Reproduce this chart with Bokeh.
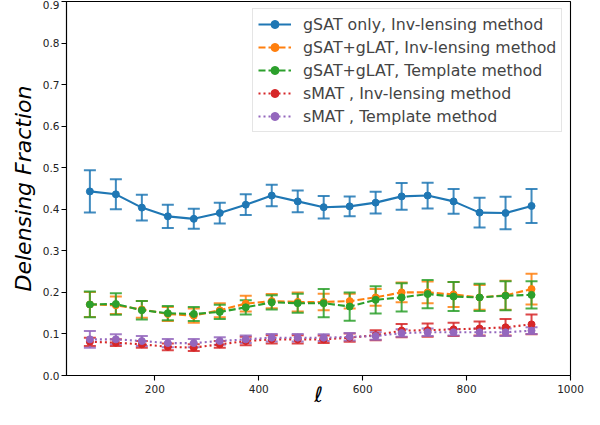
from bokeh.plotting import figure
from bokeh.models import (ColumnDataSource, Whisker, TeeHead, FixedTicker,
                          PrintfTickFormatter, Range1d, Legend, LegendItem)
from bokeh.embed import file_html
from bokeh.resources import INLINE

ell = [75, 125, 175, 225, 275, 325, 375, 425, 475, 525, 575, 625, 675, 725, 775, 825, 875, 925]

gsat_inv = [0.443, 0.436, 0.404, 0.383, 0.377, 0.391, 0.411, 0.433, 0.419, 0.405, 0.407, 0.416, 0.431, 0.433, 0.419, 0.392, 0.391, 0.408]
gsat_inv_err = [0.051, 0.036, 0.031, 0.028, 0.024, 0.025, 0.025, 0.026, 0.026, 0.027, 0.024, 0.026, 0.032, 0.031, 0.030, 0.036, 0.039, 0.041]

glat_inv = [0.171, 0.169, 0.159, 0.148, 0.144, 0.157, 0.173, 0.179, 0.177, 0.177, 0.179, 0.188, 0.200, 0.200, 0.195, 0.188, 0.193, 0.208]
glat_inv_err = [0.030, 0.021, 0.020, 0.017, 0.017, 0.017, 0.019, 0.017, 0.023, 0.020, 0.018, 0.020, 0.024, 0.026, 0.030, 0.030, 0.035, 0.037]

glat_tmp = [0.171, 0.172, 0.157, 0.150, 0.148, 0.153, 0.164, 0.176, 0.174, 0.174, 0.166, 0.182, 0.188, 0.196, 0.190, 0.188, 0.192, 0.194]
glat_tmp_err = [0.031, 0.026, 0.022, 0.017, 0.017, 0.017, 0.017, 0.017, 0.023, 0.034, 0.034, 0.033, 0.034, 0.034, 0.035, 0.033, 0.035, 0.033]

smat_inv = [0.081, 0.079, 0.075, 0.069, 0.067, 0.075, 0.083, 0.087, 0.087, 0.087, 0.091, 0.097, 0.108, 0.109, 0.111, 0.113, 0.116, 0.123]
smat_inv_err = [0.010, 0.008, 0.008, 0.008, 0.008, 0.008, 0.010, 0.010, 0.010, 0.009, 0.010, 0.012, 0.016, 0.016, 0.016, 0.017, 0.020, 0.024]

smat_tmp = [0.087, 0.087, 0.083, 0.078, 0.078, 0.083, 0.087, 0.091, 0.091, 0.091, 0.093, 0.095, 0.102, 0.104, 0.104, 0.104, 0.104, 0.108]
smat_tmp_err = [0.020, 0.012, 0.012, 0.010, 0.010, 0.009, 0.009, 0.009, 0.009, 0.008, 0.009, 0.009, 0.009, 0.009, 0.008, 0.009, 0.009, 0.008]

labels = ["gSAT only, Inv-lensing method", "gSAT+gLAT, Inv-lensing method",
          "gSAT+gLAT, Template method", "sMAT , Inv-lensing method",
          "sMAT , Template method"]
colors = ["#1f77b4", "#ff7f0e", "#2ca02c", "#d62728", "#9467bd"]
dashes = ["solid", "7 3", "7 3", "2 3", "2 3"]
x_ticks = [200, 400, 600, 800, 1000]
y_ticks = [0.0, 0.1, 0.2, 0.3, 0.4, 0.5, 0.6, 0.7, 0.8, 0.9]

series = [(gsat_inv, gsat_inv_err), (glat_inv, glat_inv_err), (glat_tmp, glat_tmp_err),
          (smat_inv, smat_inv_err), (smat_tmp, smat_tmp_err)]

p = figure(width=584, height=409, output_backend="svg", toolbar_location=None,
           x_range=Range1d(30, 1000), y_range=Range1d(0, 0.9),
           min_border_left=66, min_border_right=14, min_border_top=1, min_border_bottom=34)
p.grid.visible = False
p.outline_line_color = "black"
p.outline_line_width = 1.1
p.background_fill_color = "white"
p.border_fill_color = "white"

FONT = "DejaVu Sans"
for ax, ticks, fmt in ((p.xaxis[0], x_ticks, "%d"), (p.yaxis[0], y_ticks, "%.1f")):
    ax.ticker = FixedTicker(ticks=ticks)
    ax.formatter = PrintfTickFormatter(format=fmt)
    ax.minor_tick_line_color = None
    ax.major_tick_in = 0
    ax.major_tick_out = 5
    ax.major_label_standoff = 2
    ax.major_label_text_font = FONT
    ax.major_label_text_font_size = "10.5px"
    ax.major_label_text_color = "#222222"
    ax.axis_line_color = "black"
    ax.axis_line_width = 1.1
    ax.major_tick_line_width = 1.1
    ax.axis_label_text_font = FONT
    ax.axis_label_text_font_style = "italic"
    ax.axis_label_text_color = "black"

p.xaxis.major_label_standoff = 4

p.yaxis.axis_label = "Delensing Fraction"
p.yaxis.axis_label_text_font_size = "22px"
p.yaxis.axis_label_standoff = 4

p.xaxis.axis_label = "ℓ"
p.xaxis.axis_label_text_font_size = "21px"
p.xaxis.axis_label_standoff = -13

items = []
for (vals, errs), lab, col, dash in zip(series, labels, colors, dashes):
    src = ColumnDataSource(dict(x=ell, y=vals,
                                lo=[v - e for v, e in zip(vals, errs)],
                                hi=[v + e for v, e in zip(vals, errs)]))
    w = Whisker(base="x", lower="lo", upper="hi", source=src,
                line_color=col, line_width=2, line_alpha=0.85,
                lower_head=TeeHead(size=12, line_color=col, line_width=2, line_alpha=0.85),
                upper_head=TeeHead(size=12, line_color=col, line_width=2, line_alpha=0.85))
    p.add_layout(w)
    ln = p.line("x", "y", source=src, line_color=col, line_width=2.1, line_dash=dash)
    sc = p.scatter("x", "y", source=src, size=7, fill_color=col, line_color=col)
    items.append(LegendItem(label=lab, renderers=[ln, sc]))

leg = Legend(items=items, location=(186, 243))
leg.margin = 0
leg.padding = 5
leg.spacing = 3
leg.glyph_width = 33
leg.glyph_height = 20
leg.label_height = 20
leg.label_standoff = 12
leg.label_text_font = FONT
leg.label_text_font_size = "15.8px"
leg.border_line_color = "#cccccc"
leg.border_line_width = 1
leg.background_fill_alpha = 0.8
p.add_layout(leg)

open("out.html", "w").write(file_html(p, INLINE))
